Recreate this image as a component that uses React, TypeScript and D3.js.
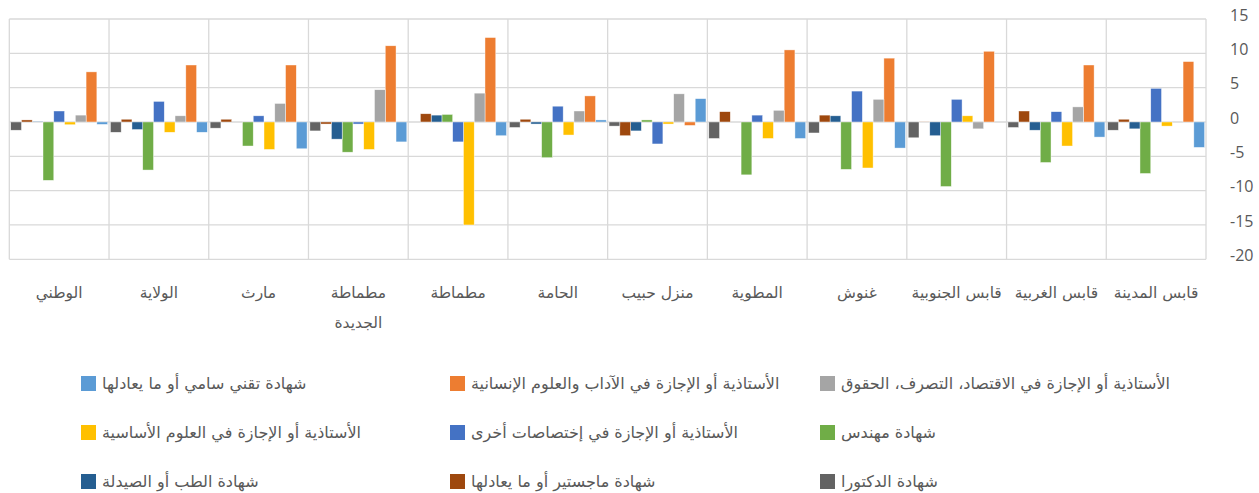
import React from 'react';
import * as d3 from 'd3';

// Categories in reading order (right to left on the chart)
const categories = [
  'قابس المدينة',
  'قابس الغربية',
  'قابس الجنوبية',
  'غنوش',
  'المطوية',
  'منزل حبيب',
  'الحامة',
  'مطماطة',
  'مطماطة الجديدة',
  'مارث',
  'الولاية',
  'الوطني',
];

const seriesNames = [
  'شهادة تقني سامي أو ما يعادلها',
  'الأستاذية أو الإجازة في الآداب والعلوم الإنسانية',
  'الأستاذية أو الإجازة في الاقتصاد، التصرف، الحقوق',
  'الأستاذية أو الإجازة في العلوم الأساسية',
  'الأستاذية أو الإجازة في إختصاصات أخرى',
  'شهادة مهندس',
  'شهادة الطب أو الصيدلة',
  'شهادة ماجستير أو ما يعادلها',
  'شهادة الدكتورا',
];

const seriesColors = ['#5B9BD5', '#ED7D31', '#A5A5A5', '#FFC000', '#4472C4', '#70AD47', '#255E91', '#9E480E', '#636363'];

const technicien = [-3.7, -2.2, 0, -3.8, -2.4, 3.4, 0.3, -2.0, -2.9, -3.9, -1.5, -0.35];
const lettres = [8.8, 8.3, 10.3, 9.3, 10.5, -0.5, 3.8, 12.3, 11.1, 8.3, 8.3, 7.3];
const economie = [0, 2.2, -1.0, 3.3, 1.7, 4.1, 1.6, 4.2, 4.7, 2.7, 0.9, 1.0];
const sciences = [-0.6, -3.5, 0.9, -6.7, -2.4, -0.3, -1.9, -15.0, -4.0, -4.0, -1.5, -0.4];
const autres = [4.9, 1.5, 3.3, 4.5, 1.0, -3.2, 2.3, -2.9, -0.3, 0.9, 3.0, 1.6];
const ingenieur = [-7.5, -5.9, -9.4, -6.9, -7.7, 0.3, -5.2, 1.1, -4.4, -3.5, -7.0, -8.5];
const medecine = [-1.0, -1.2, -2.0, 0.9, 0, -1.3, -0.3, 1.0, -2.5, 0, -1.1, 0.1];
const master = [0.4, 1.6, 0.05, 1.0, 1.5, -2.0, 0.4, 1.2, -0.3, 0.4, 0.4, 0.3];
const doctorat = [-1.2, -0.8, -2.3, -1.6, -2.4, -0.6, -0.8, 0, -1.3, -0.9, -1.5, -1.2];

const seriesValues = [technicien, lettres, economie, sciences, autres, ingenieur, medecine, master, doctorat];

const yTicks = [15, 10, 5, 0, -5, -10, -15, -20];

const wrappedLabels: Record<string, string[]> = {
  'مطماطة الجديدة': ['مطماطة', 'الجديدة'],
};

const W = 1259;
const H = 493;
const plotLeft = 9.3;
const plotRight = 1206;
const plotTop = 19;
const plotBottom = 259.3;

const arabicFont = '"DejaVu Sans", "Noto Sans", sans-serif';
const textColor = '#595959';
const gridColor = '#D9D9D9';

export default function App() {
  const x = d3.scaleBand<string>().domain(categories).range([plotRight, plotLeft]).padding(0);
  const bw = x.bandwidth();
  const inner = d3
    .scaleBand<string>()
    .domain(seriesNames)
    .range([bw - 1.4, 1.4])
    .padding(0);
  const y = d3.scaleLinear().domain([-20, 15]).range([plotBottom, plotTop]);

  const vLines = categories.map((c) => x(c) as number).concat([plotRight]);

  const legendCols = [81, 450, 820];
  const legendRows = [383, 432, 481];

  return (
    <svg
      width={W}
      height={H}
      style={{ position: 'absolute', left: 0, top: 0, background: '#fff' }}
    >
      {/* grid */}
      <g>
        {yTicks.map((t) => (
          <line key={'h' + t} x1={plotLeft} x2={plotRight} y1={y(t)} y2={y(t)} stroke={gridColor} strokeWidth={1.3} />
        ))}
        {vLines.map((vx, i) => (
          <line key={'v' + i} x1={vx} x2={vx} y1={plotTop} y2={plotBottom} stroke={gridColor} strokeWidth={1.3} />
        ))}
      </g>
      {/* bars */}
      <g>
        {seriesNames.map((s, si) => (
          <g key={s} fill={seriesColors[si]}>
            {categories.map((c, ci) => {
              const v = seriesValues[si][ci];
              const bx = (x(c) as number) + (inner(s) as number);
              const y0 = y(0);
              const y1 = y(v);
              return (
                <rect
                  key={c}
                  x={bx}
                  width={inner.bandwidth()}
                  y={Math.min(y0, y1)}
                  height={Math.abs(y1 - y0)}
                  stroke="#ffffff"
                  strokeWidth={0.6}
                  strokeOpacity={0.7}
                />
              );
            })}
          </g>
        ))}
      </g>
      {/* y axis labels */}
      <g>
        {yTicks.map((t) => (
          <text
            key={'yl' + t}
            x={1230}
            y={y(t) - 4}
            dy="0.35em"
            fontFamily='"Open Sans", "Liberation Sans", sans-serif'
            fontSize={16}
            fill={textColor}
          >
            {t}
          </text>
        ))}
      </g>
      {/* category labels */}
      <g>
        {categories.map((c) => {
          const lines = wrappedLabels[c] || [c];
          const cx = (x(c) as number) + bw / 2;
          return (
            <text
              key={'cl' + c}
              x={cx}
              textAnchor="middle"
              fontFamily={arabicFont}
              fontSize={15.5}
              fill={textColor}
            >
              {lines.map((l, li) => (
                <tspan key={li} x={cx} y={298 + li * 30}>
                  {l}
                </tspan>
              ))}
            </text>
          );
        })}
      </g>
      {/* legend */}
      <g>
        {seriesNames.map((s, si) => {
          const col = si % 3;
          const row = Math.floor(si / 3);
          const lx = legendCols[col];
          const ly = legendRows[row];
          return (
            <g key={'lg' + s}>
              <rect x={lx} y={ly - 7} width={15} height={15} fill={seriesColors[si]} />
              <text
                x={lx + 21}
                y={ly}
                dy="0.35em"
                fontFamily={arabicFont}
                fontSize={16}
                fill={textColor}
              >
                {s}
              </text>
            </g>
          );
        })}
      </g>
    </svg>
  );
}
